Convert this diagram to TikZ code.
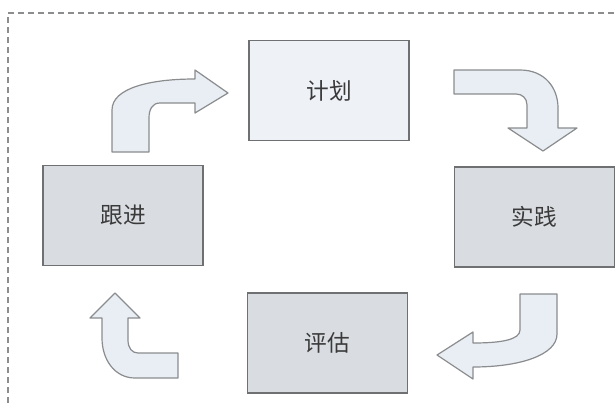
\documentclass[tikz,border=0pt]{standalone}
\usepackage{fontspec}
\newfontfamily\cjk{Noto Sans CJK SC}
\definecolor{lightbox}{HTML}{EEF2F7}
\definecolor{greybox}{HTML}{D9DDE1}
\definecolor{boxline}{HTML}{6E7072}
\definecolor{arrowfill}{HTML}{E9EEF5}
\definecolor{arrowline}{HTML}{8A8C8E}
\definecolor{txt}{HTML}{3A3A3A}
\begin{document}
\begin{tikzpicture}[x=0.75pt,y=-0.75pt,
  box/.style={draw=boxline, line width=1.2pt, inner sep=0pt, minimum width=120pt, minimum height=75pt, font=\cjk\fontsize{17}{17}\selectfont, text=txt},
  lightstep/.style={box, fill=lightbox},
  greystep/.style={box, fill=greybox},
  blockarrow/.style={draw=arrowline, line width=0.9pt, fill=arrowfill, line join=round},
  frame/.style={draw=boxline!80, line width=1.1pt, dash pattern=on 4.5pt off 3pt}]
\useasboundingbox (0,0) rectangle (616,403);
\fill[white] (0,0) rectangle (616,403);
\draw[frame] (8,403) -- (8,13) -- (616,13);

\node[lightstep] (plan) at (329,90.5) {计划};
\node[greystep] (act) at (534.5,217) {实践};
\node[greystep] (follow) at (123,215.5) {跟进};
\node[greystep] (eval) at (327.5,343) {评估};

% follow -> plan
\draw[blockarrow] (112,152) -- (112,110) .. controls (112,88) and (150,79) .. (195,79) -- (195,70) -- (228,93) -- (195,113) -- (195,103) -- (160,103) .. controls (152,103) and (149,110) .. (149,118) -- (149,152) -- cycle;
% plan -> act
\draw[blockarrow] (454,70) -- (520,70) .. controls (545,70) and (558,88) .. (558,108) -- (558,128) -- (577,128) -- (543,151) -- (508,128) -- (527,128) -- (527,105) .. controls (527,98) and (522,94) .. (516,94) -- (454,94) -- cycle;
% act -> eval
\draw[blockarrow] (520,294) -- (557,294) -- (557,334) .. controls (557,355) and (520,367) .. (473,367) -- (473,379) -- (437,355) -- (473,332) -- (473,343) .. controls (500,343) and (520,340) .. (520,330) -- cycle;
% eval -> follow
\draw[blockarrow] (178,353) -- (178,378) -- (135,378) .. controls (115,378) and (102,360) .. (102,338) -- (102,318) -- (90,318) -- (115,293) -- (140,318) -- (128,318) -- (128,340) .. controls (128,348) and (132,353) .. (138,353) -- cycle;
\end{tikzpicture}
\end{document}
